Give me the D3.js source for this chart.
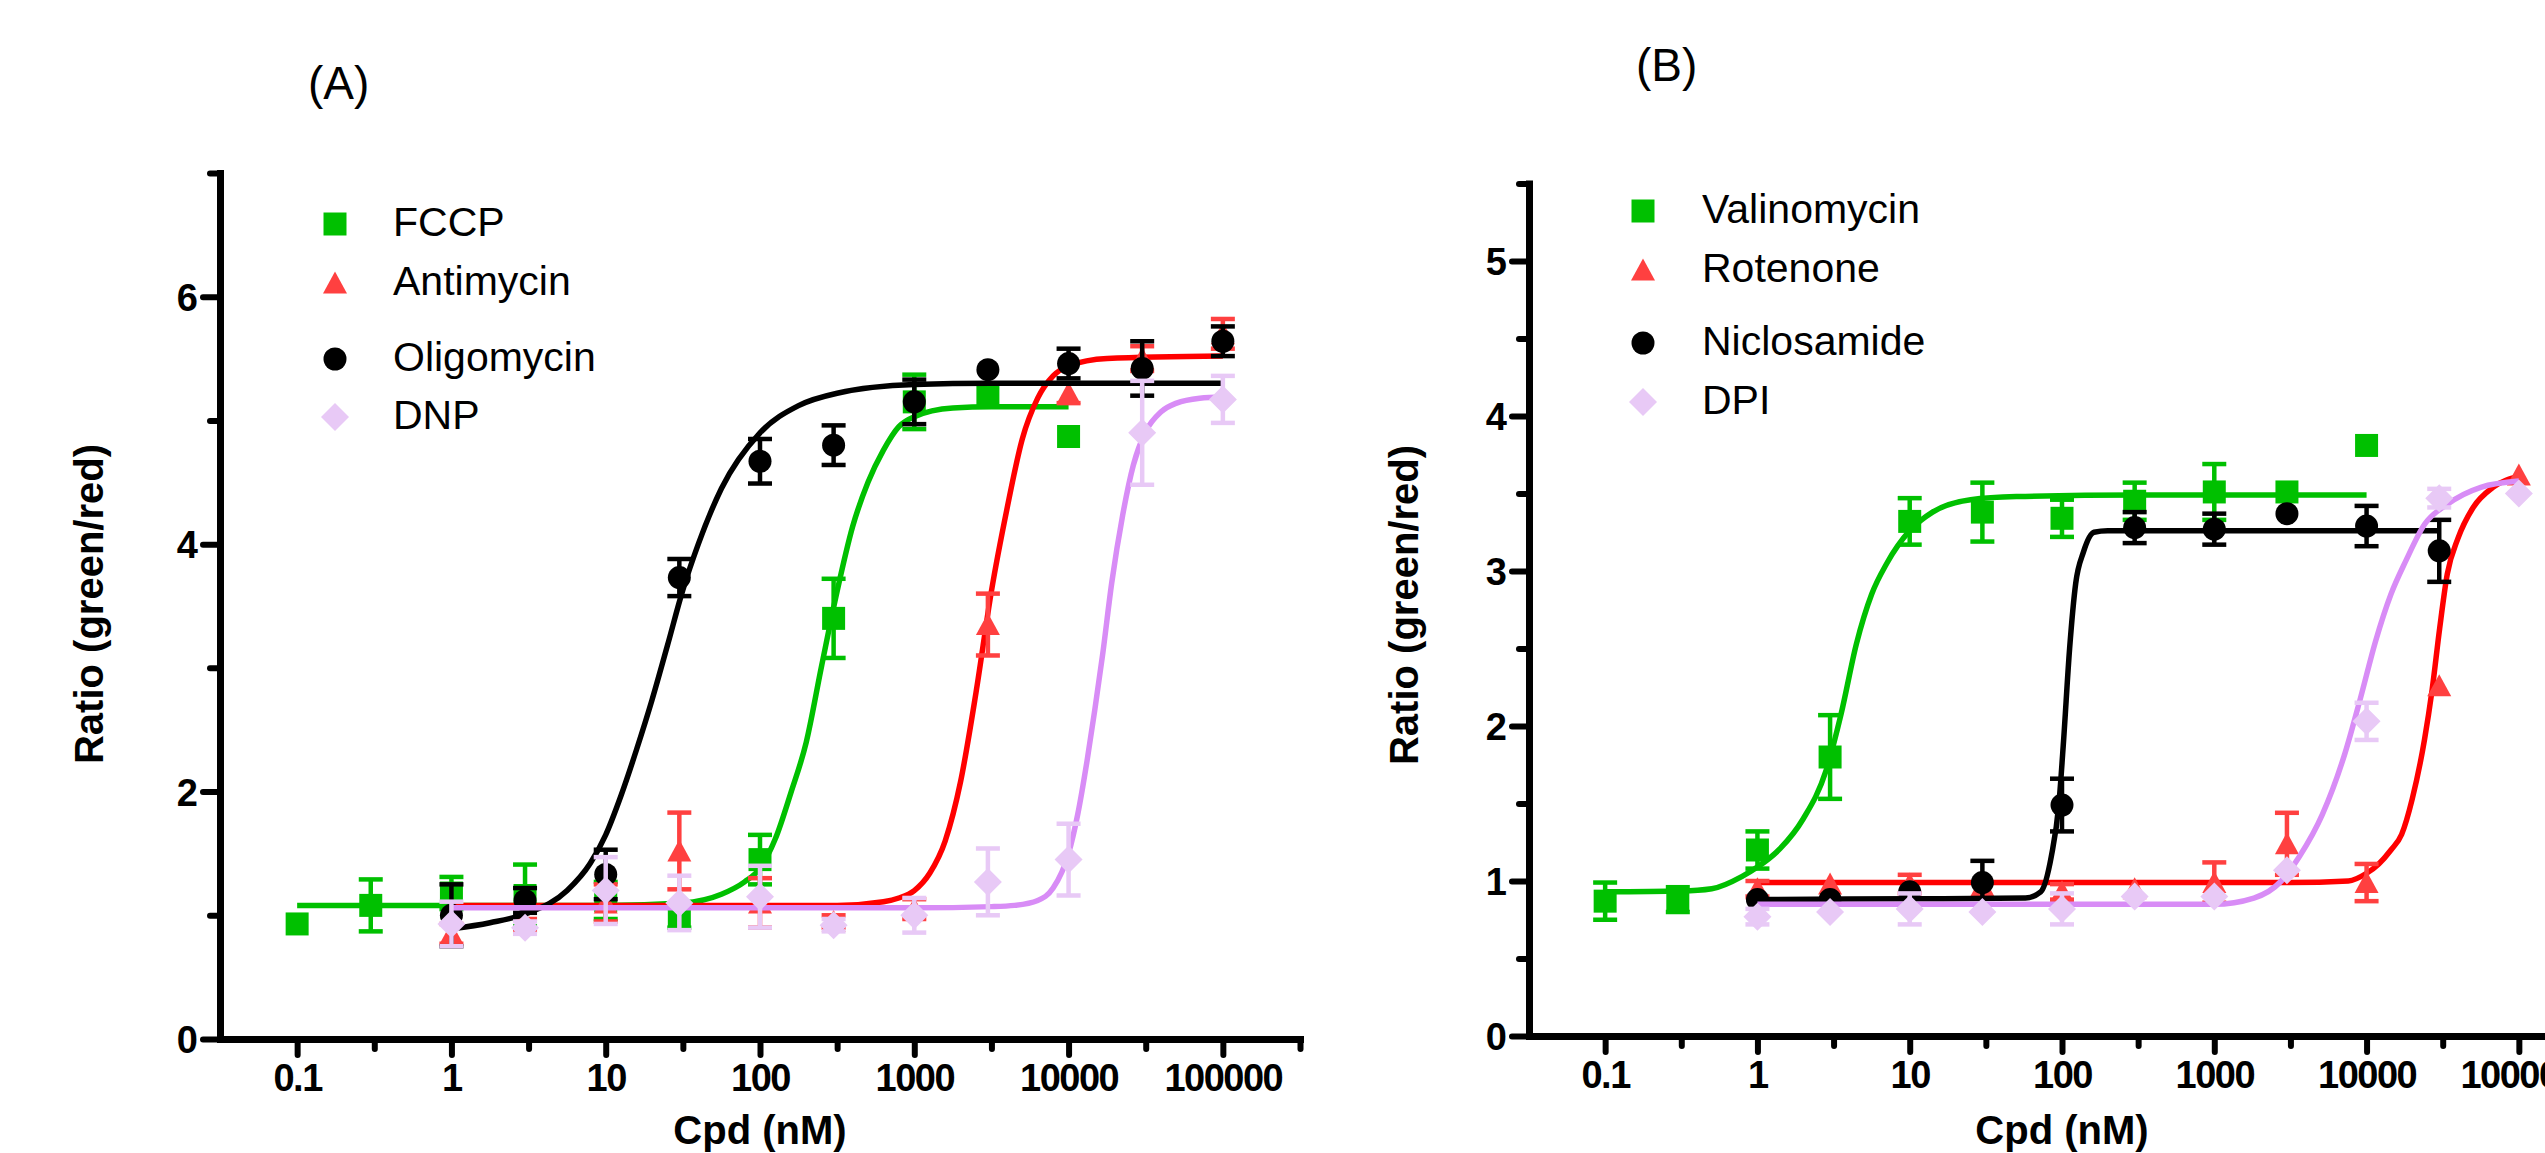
<!DOCTYPE html>
<html><head><meta charset="utf-8">
<script src="https://cdn.jsdelivr.net/npm/d3@7"></script>
<style>html,body{margin:0;padding:0;background:#fff;overflow:hidden}svg{display:block}</style>
</head><body>
<svg id="chart" width="2545" height="1153"></svg>
<script>
// ---------------- DATA ----------------
const xTickValues = [0.1, 1, 10, 100, 1000, 10000, 100000];
const xTickLabels = ["0.1", "1", "10", "100", "1000", "10000", "100000"];
const xMinorExp = [-0.5, 0.5, 1.5, 2.5, 3.5, 4.5, 5.5];
const yTicksA = [0, 2, 4, 6];
const yMinorA = [1, 3, 5, 7];
const yTicksB = [0, 1, 2, 3, 4, 5];
const yMinorB = [0.5, 1.5, 2.5, 3.5, 4.5, 5.5];

// Panel A
const fccpConc = [0.1, 0.3, 1, 3, 10, 30, 100, 300, 1000, 3000, 10000];
const fccpMean = [0.93, 1.08, 1.18, 1.16, 1.12, 0.98, 1.45, 3.40, 5.15, 5.19, 4.87];
const fccpSem  = [0, 0.21, 0.13, 0.25, 0.15, 0.08, 0.20, 0.32, 0.22, 0, 0];
const fccpFitLogX = [-1, 0, 1, 1.5, 1.75, 1.9, 2.0, 2.1, 2.2, 2.3, 2.4, 2.5, 2.6, 2.7, 2.8, 2.9, 3.0, 3.25, 3.5, 4.0];
const fccpFitY    = [1.08, 1.08, 1.08, 1.10, 1.17, 1.27, 1.38, 1.62, 1.99, 2.40, 3.02, 3.62, 4.14, 4.50, 4.76, 4.95, 5.03, 5.10, 5.11, 5.11];

const antiConc = [1, 3, 10, 30, 100, 300, 1000, 3000, 10000, 30000, 100000];
const antiMean = [0.85, 0.92, 1.10, 1.52, 1.10, 0.95, 1.05, 3.35, 5.22, 5.50, 5.70];
const antiSem  = [0.08, 0.05, 0.15, 0.31, 0.20, 0.05, 0.08, 0.25, 0.08, 0.10, 0.12];
const antiFitLogX = [0, 2.5, 2.8, 2.9, 3.0, 3.1, 3.2, 3.3, 3.4, 3.5, 3.6, 3.7, 3.8, 3.9, 4.0, 4.25, 5.0];
const antiFitY    = [1.08, 1.08, 1.11, 1.14, 1.20, 1.34, 1.60, 2.08, 2.80, 3.62, 4.28, 4.85, 5.18, 5.36, 5.44, 5.50, 5.52];

const oligoConc = [1, 3, 10, 30, 100, 300, 1000, 3000, 10000, 30000, 100000];
const oligoMean = [1.00, 1.12, 1.33, 3.73, 4.67, 4.80, 5.15, 5.41, 5.46, 5.42, 5.64];
const oligoSem  = [0.25, 0.10, 0.20, 0.15, 0.18, 0.16, 0.18, 0, 0.12, 0.22, 0.12];
const oligoFitLogX = [0, 0.25, 0.5, 0.75, 0.9, 1.0, 1.1, 1.2, 1.3, 1.4, 1.5, 1.6, 1.75, 2.0, 2.25, 2.5, 3.0, 3.5, 5.0];
const oligoFitY    = [0.89, 0.94, 1.02, 1.20, 1.42, 1.65, 1.97, 2.34, 2.74, 3.18, 3.63, 4.00, 4.45, 4.90, 5.12, 5.22, 5.29, 5.30, 5.30];

const dnpConc = [1, 3, 10, 30, 100, 300, 1000, 3000, 10000, 30000, 100000];
const dnpMean = [0.93, 0.90, 1.20, 1.10, 1.15, 0.92, 1.00, 1.27, 1.45, 4.90, 5.17];
const dnpSem  = [0.18, 0.05, 0.27, 0.22, 0.25, 0.05, 0.14, 0.27, 0.29, 0.42, 0.19];
const dnpFitLogX = [0, 3.0, 3.5, 3.65, 3.8, 3.9, 4.0, 4.06, 4.12, 4.17, 4.22, 4.28, 4.35, 4.42, 4.5, 4.6, 4.7, 4.85, 5.0];
const dnpFitY    = [1.06, 1.06, 1.07, 1.08, 1.12, 1.22, 1.50, 1.82, 2.25, 2.66, 3.10, 3.69, 4.23, 4.64, 4.91, 5.07, 5.14, 5.18, 5.19];

// Panel B
const valiConc = [0.1, 0.3, 1, 3, 10, 30, 100, 300, 1000, 3000, 10000];
const valiMean = [0.87, 0.88, 1.20, 1.80, 3.32, 3.38, 3.34, 3.45, 3.51, 3.51, 3.81];
const valiSem  = [0.12, 0.08, 0.12, 0.27, 0.15, 0.19, 0.12, 0.12, 0.18, 0, 0];
const valiFitLogX = [-1, -0.5, -0.3, -0.1, 0.0, 0.15, 0.3, 0.45, 0.55, 0.65, 0.75, 0.85, 1.0, 1.15, 1.4, 1.7, 2.5, 4.0];
const valiFitY    = [0.93, 0.935, 0.95, 1.03, 1.09, 1.21, 1.40, 1.71, 2.08, 2.53, 2.85, 3.05, 3.26, 3.38, 3.46, 3.48, 3.49, 3.49];

const rotConc = [1, 3, 10, 30, 100, 300, 1000, 3000, 10000, 30000, 100000];
const rotMean = [0.95, 0.98, 0.98, 0.97, 0.93, 0.95, 0.99, 1.24, 0.99, 2.26, 3.62];
const rotSem  = [0.05, 0, 0.06, 0, 0.05, 0, 0.13, 0.20, 0.12, 0, 0];
const rotFitLogX = [0, 3.5, 3.88, 4.0, 4.08, 4.16, 4.23, 4.3, 4.38, 4.43, 4.48, 4.53, 4.6, 4.7, 4.83, 5.0];
const rotFitY    = [0.99, 0.99, 1.00, 1.05, 1.11, 1.20, 1.30, 1.53, 1.91, 2.23, 2.63, 2.98, 3.21, 3.41, 3.54, 3.61];

const niclConc = [1, 3, 10, 30, 100, 300, 1000, 3000, 10000, 30000];
const niclMean = [0.88, 0.88, 0.93, 0.99, 1.49, 3.28, 3.27, 3.37, 3.29, 3.13];
const niclSem  = [0, 0, 0, 0.14, 0.17, 0.10, 0.10, 0, 0.13, 0.20];
const niclFitLogX = [0, 0.05, 1.0, 1.76, 1.86, 1.93, 1.98, 2.01, 2.05, 2.09, 2.14, 2.21, 2.3, 4.477];
const niclFitY    = [0.85, 0.88, 0.885, 0.89, 0.93, 1.16, 1.50, 1.90, 2.50, 2.92, 3.12, 3.25, 3.26, 3.26];

const dpiConc = [1, 3, 10, 30, 100, 300, 1000, 3000, 10000, 30000, 100000];
const dpiMean = [0.77, 0.80, 0.82, 0.80, 0.82, 0.90, 0.90, 1.07, 2.03, 3.47, 3.50];
const dpiSem  = [0.05, 0, 0.10, 0, 0.10, 0, 0, 0, 0.12, 0.06, 0];
const dpiFitLogX = [0, 3.0, 3.26, 3.44, 3.56, 3.71, 3.86, 3.96, 4.06, 4.16, 4.26, 4.38, 4.53, 4.75, 5.0];
const dpiFitY    = [0.85, 0.85, 0.89, 1.00, 1.16, 1.43, 1.83, 2.18, 2.55, 2.85, 3.07, 3.30, 3.43, 3.54, 3.58];

const seriesNamesA = ["FCCP", "Antimycin", "Oligomycin", "DNP"];
const seriesNamesB = ["Valinomycin", "Rotenone", "Niclosamide", "DPI"];

// ---------------- STYLE ----------------
const GREEN = "#00C000", RED_LINE = "#FF0000", RED_MK = "#FF4040", BLACK = "#000000",
      PURPLE_LINE = "#D88CF6", LAV_MK = "#E8C9F6";
const shapes = {
  square: "M-11.5,-11.5h23v23h-23Z",
  triangle: "M0,-11.5L12,10.5L-12,10.5Z",
  circle: d3.symbol(d3.symbolCircle, Math.PI * 11.5 * 11.5)(),
  diamond: "M0,-14L14,0L0,14L-14,0Z"
};
const styleSet = [
  {line: GREEN, mk: GREEN, shape: "square"},
  {line: RED_LINE, mk: RED_MK, shape: "triangle"},
  {line: BLACK, mk: BLACK, shape: "circle"},
  {line: PURPLE_LINE, mk: LAV_MK, shape: "diamond"}
];

function mk(name, conc, mean, sem, fx, fy, i) {
  return Object.assign({name, conc, mean, sem, fx, fy}, styleSet[i]);
}

const panels = [
  {title: "(A)", titleX: 308, titleY: 99,
   left: 220, right: 1300, top: 173, bottom: 1039, yMax: 7,
   yTicks: yTicksA, yMinor: yMinorA,
   legendX: 335, legendTextX: 393, legendY: [224, 283, 359, 417],
   yTitleX: 103, yTitleY: 604, xTitleX: 760,
   series: [
     mk(seriesNamesA[0], fccpConc, fccpMean, fccpSem, fccpFitLogX, fccpFitY, 0),
     mk(seriesNamesA[1], antiConc, antiMean, antiSem, antiFitLogX, antiFitY, 1),
     mk(seriesNamesA[2], oligoConc, oligoMean, oligoSem, oligoFitLogX, oligoFitY, 2),
     mk(seriesNamesA[3], dnpConc, dnpMean, dnpSem, dnpFitLogX, dnpFitY, 3)
   ]},
  {title: "(B)", titleX: 1636, titleY: 81,
   left: 1529, right: 2595, top: 183.5, bottom: 1036, yMax: 5.5,
   yTicks: yTicksB, yMinor: yMinorB,
   legendX: 1643, legendTextX: 1702, legendY: [211, 270, 343, 402],
   yTitleX: 1418, yTitleY: 605, xTitleX: 2062,
   series: [
     mk(seriesNamesB[0], valiConc, valiMean, valiSem, valiFitLogX, valiFitY, 0),
     mk(seriesNamesB[1], rotConc, rotMean, rotSem, rotFitLogX, rotFitY, 1),
     mk(seriesNamesB[2], niclConc, niclMean, niclSem, niclFitLogX, niclFitY, 2),
     mk(seriesNamesB[3], dpiConc, dpiMean, dpiSem, dpiFitLogX, dpiFitY, 3)
   ]}
];

const FONT = "'Liberation Sans', Arial, Helvetica, sans-serif";
const svg = d3.select("#chart");
svg.append("rect").attr("width", 2545).attr("height", 1153).attr("fill", "#fff");

panels.forEach(p => {
  const x = d3.scaleLog().domain([Math.pow(10, -1.5), Math.pow(10, 5.5)]).range([p.left, p.right]);
  const y = d3.scaleLinear().domain([0, p.yMax]).range([p.bottom, p.top]);
  const g = svg.append("g");

  // panel title
  g.append("text").attr("x", p.titleX).attr("y", p.titleY)
    .attr("font-family", FONT).attr("font-size", 46).attr("fill", "#000").text(p.title);

  // series
  const line = d3.line().x(d => x(Math.pow(10, d[0]))).y(d => y(d[1])).curve(d3.curveMonotoneX);
  p.series.forEach(s => {
    const sg = g.append("g");
    sg.append("path").attr("d", line(s.fx.map((v, i) => [v, s.fy[i]])))
      .attr("fill", "none").attr("stroke", s.line).attr("stroke-width", 5.5)
      .attr("stroke-linejoin", "round");
    const pts = s.conc.map((c, i) => ({c, m: s.mean[i], e: s.sem[i]}));
    const eb = sg.append("g").attr("stroke", s.mk).attr("stroke-width", 4.5).attr("fill", "none");
    pts.filter(d => d.e > 0).forEach(d => {
      const cx = x(d.c), y1 = y(d.m + d.e), y2 = y(d.m - d.e);
      eb.append("line").attr("x1", cx).attr("x2", cx).attr("y1", y1).attr("y2", y2);
      eb.append("line").attr("x1", cx - 12).attr("x2", cx + 12).attr("y1", y1).attr("y2", y1);
      eb.append("line").attr("x1", cx - 12).attr("x2", cx + 12).attr("y1", y2).attr("y2", y2);
    });
    sg.selectAll("path.mk").data(pts).enter().append("path").attr("class", "mk")
      .attr("d", shapes[s.shape]).attr("fill", s.mk)
      .attr("transform", d => `translate(${x(d.c)},${y(d.m)})`);
  });

  // axes
  const gx = g.append("g").attr("transform", `translate(0,${p.bottom})`);
  gx.call(d3.axisBottom(x).tickValues(xTickValues).tickFormat((d, i) => xTickLabels[i]).tickSize(16).tickSizeOuter(0));
  const gxm = g.append("g").attr("transform", `translate(0,${p.bottom})`);
  gxm.call(d3.axisBottom(x).tickValues(xMinorExp.map(e => Math.pow(10, e))).tickFormat("").tickSize(10).tickSizeOuter(0));
  gxm.select(".domain").remove();

  const gy = g.append("g").attr("transform", `translate(${p.left},0)`);
  gy.call(d3.axisLeft(y).tickValues(p.yTicks).tickFormat(d3.format("d")).tickSize(17).tickSizeOuter(0));
  const gym = g.append("g").attr("transform", `translate(${p.left},0)`);
  gym.call(d3.axisLeft(y).tickValues(p.yMinor).tickFormat("").tickSize(10).tickSizeOuter(0));
  gym.select(".domain").remove();

  [gx, gxm, gy, gym].forEach(a => {
    a.attr("font-family", null).attr("font-size", null);
    a.selectAll(".domain").attr("stroke", "#000").attr("stroke-width", 7).attr("stroke-linecap", "square");
    a.selectAll(".tick line").attr("stroke", "#000").attr("stroke-width", 6).attr("stroke-linecap", "round");
  });
  gx.selectAll(".tick text").attr("y", 52).attr("dy", null)
    .attr("font-family", FONT).attr("font-weight", "bold").attr("font-size", 38)
    .attr("letter-spacing", "-1.5px").attr("fill", "#000");
  gy.selectAll(".tick text").attr("x", -22).attr("dy", "0.36em")
    .attr("font-family", FONT).attr("font-weight", "bold").attr("font-size", 38).attr("fill", "#000");

  // axis titles
  g.append("text").attr("transform", `translate(${p.yTitleX},${p.yTitleY}) rotate(-90)`)
    .attr("text-anchor", "middle").attr("font-family", FONT).attr("font-weight", "bold")
    .attr("font-size", 40).attr("fill", "#000").text("Ratio (green/red)");
  g.append("text").attr("x", p.xTitleX).attr("y", 1144).attr("text-anchor", "middle")
    .attr("font-family", FONT).attr("font-weight", "bold").attr("font-size", 40)
    .attr("fill", "#000").text("Cpd (nM)");

  // legend
  const lg = g.append("g");
  p.series.forEach((s, i) => {
    lg.append("path").attr("d", shapes[s.shape]).attr("fill", s.mk)
      .attr("transform", `translate(${p.legendX},${p.legendY[i]})`);
    lg.append("text").attr("x", p.legendTextX).attr("y", p.legendY[i] + 12)
      .attr("font-family", FONT).attr("font-size", 41).attr("fill", "#000").text(s.name);
  });
});
</script>
</body></html>
